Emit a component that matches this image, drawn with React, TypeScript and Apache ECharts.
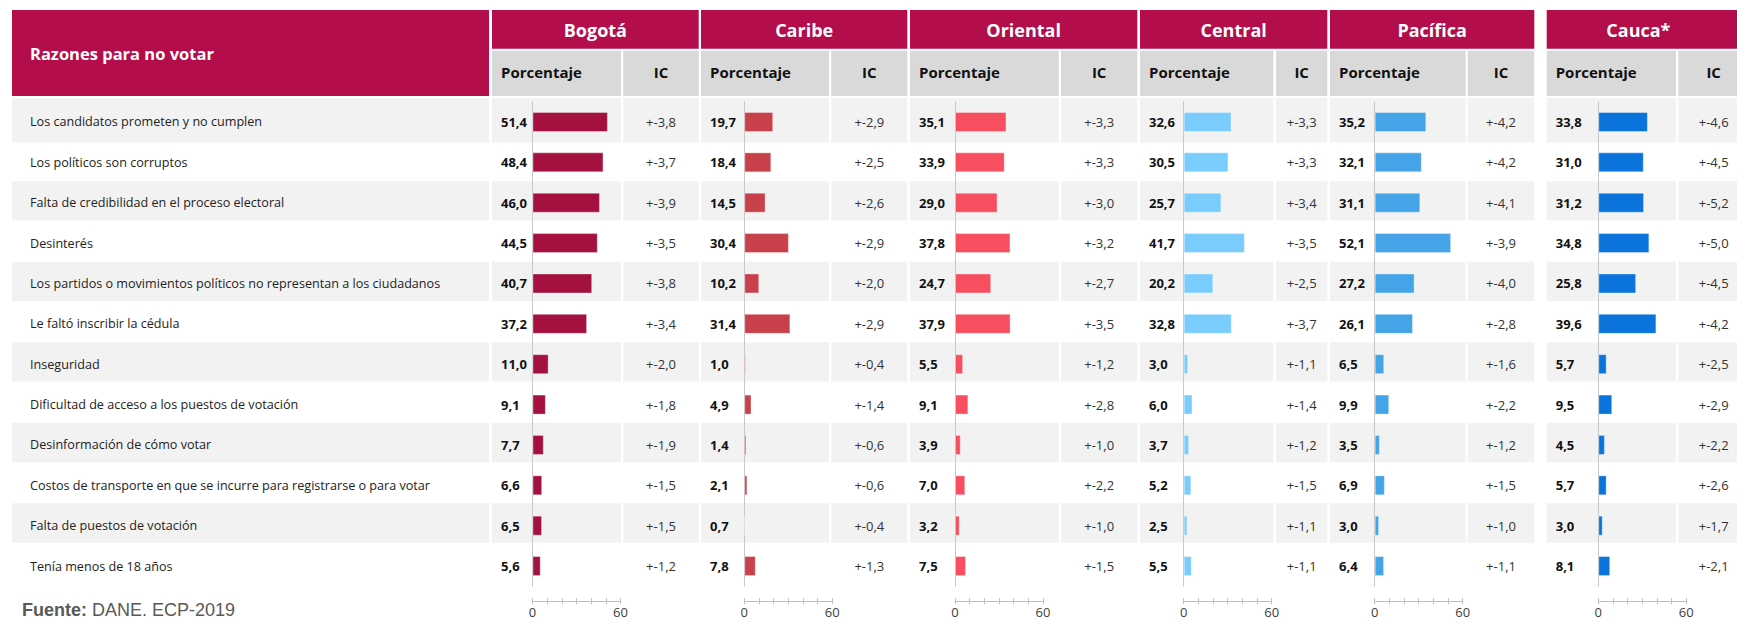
import React, { useEffect, useRef } from 'react';
import * as echarts from 'echarts';

// ---------- DATA ----------
const reasons = [
  'Los candidatos prometen y no cumplen',
  'Los políticos son corruptos',
  'Falta de credibilidad en el proceso electoral',
  'Desinterés',
  'Los partidos o movimientos políticos no representan a los ciudadanos',
  'Le faltó inscribir la cédula',
  'Inseguridad',
  'Dificultad de acceso a los puestos de votación',
  'Desinformación de cómo votar',
  'Costos de transporte en que se incurre para registrarse o para votar',
  'Falta de puestos de votación',
  'Tenía menos de 18 años',
];

const regions = ['Bogotá', 'Caribe', 'Oriental', 'Central', 'Pacífica', 'Cauca*'];

const bogotaPct = [51.4, 48.4, 46.0, 44.5, 40.7, 37.2, 11.0, 9.1, 7.7, 6.6, 6.5, 5.6];
const bogotaIC = [3.8, 3.7, 3.9, 3.5, 3.8, 3.4, 2.0, 1.8, 1.9, 1.5, 1.5, 1.2];
const caribePct = [19.7, 18.4, 14.5, 30.4, 10.2, 31.4, 1.0, 4.9, 1.4, 2.1, 0.7, 7.8];
const caribeIC = [2.9, 2.5, 2.6, 2.9, 2.0, 2.9, 0.4, 1.4, 0.6, 0.6, 0.4, 1.3];
const orientalPct = [35.1, 33.9, 29.0, 37.8, 24.7, 37.9, 5.5, 9.1, 3.9, 7.0, 3.2, 7.5];
const orientalIC = [3.3, 3.3, 3.0, 3.2, 2.7, 3.5, 1.2, 2.8, 1.0, 2.2, 1.0, 1.5];
const centralPct = [32.6, 30.5, 25.7, 41.7, 20.2, 32.8, 3.0, 6.0, 3.7, 5.2, 2.5, 5.5];
const centralIC = [3.3, 3.3, 3.4, 3.5, 2.5, 3.7, 1.1, 1.4, 1.2, 1.5, 1.1, 1.1];
const pacificaPct = [35.2, 32.1, 31.1, 52.1, 27.2, 26.1, 6.5, 9.9, 3.5, 6.9, 3.0, 6.4];
const pacificaIC = [4.2, 4.2, 4.1, 3.9, 4.0, 2.8, 1.6, 2.2, 1.2, 1.5, 1.0, 1.1];
const caucaPct = [33.8, 31.0, 31.2, 34.8, 25.8, 39.6, 5.7, 9.5, 4.5, 5.7, 3.0, 8.1];
const caucaIC = [4.6, 4.5, 5.2, 5.0, 4.5, 4.2, 2.5, 2.9, 2.2, 2.6, 1.7, 2.1];

const pctByRegion = [bogotaPct, caribePct, orientalPct, centralPct, pacificaPct, caucaPct];
const icByRegion = [bogotaIC, caribeIC, orientalIC, centralIC, pacificaIC, caucaIC];

const barColors = ['#a5113f', '#c8404a', '#f74f60', '#7accfd', '#45a4e8', '#0a74dc'];

const AXIS_MIN = 0;
const AXIS_MAX = 60;
const AXIS_STEP = 10;

const headerTitle = 'Razones para no votar';
const subPct = 'Porcentaje';
const subIC = 'IC';
const sourceBold = 'Fuente:';
const sourceText = ' DANE. ECP-2019';

// ---------- LAYOUT ----------
const W = 1737;
const H = 622;
const CRIMSON = '#b30d4b';
const SUB_GRAY = '#d9d9d9';
const ROW_GRAY = '#f2f2f2';
const FONT = "'Open Sans', 'Noto Sans', sans-serif";

// [left, pctRight, icLeft, right]
const colBounds = [
  [492, 621, 623.3, 698.7],
  [701, 829, 831.3, 907.3],
  [910, 1058.7, 1061, 1137.3],
  [1140, 1273.3, 1276, 1327.3],
  [1330, 1465.7, 1467.7, 1534.3],
  [1546.7, 1676, 1678.3, 1749],
];
const zeroX = [532.5, 744.3, 955, 1183.7, 1374.7, 1598.3];
const AXIS_W = 88;
const GRID_TOP = 101.8;
const ROW_H = 40.37;
const LABEL_LEFT = 12;
const LABEL_RIGHT = 489;

const fmt = (v: number) => v.toFixed(1).replace('.', ',');
const fmtIC = (v: number) => '+-' + v.toFixed(1).replace('.', ',');

function buildOption() {
  const n = reasons.length;
  const grids: any[] = [];
  const xAxes: any[] = [];
  const yAxes: any[] = [];
  const series: any[] = [];
  const graphics: any[] = [];

  // header backgrounds
  graphics.push({ type: 'rect', z: -10, shape: { x: LABEL_LEFT, y: 10, width: LABEL_RIGHT - LABEL_LEFT, height: 86 }, style: { fill: CRIMSON } });
  graphics.push({ type: 'text', z: 10, x: 30, y: 53.5, style: { text: headerTitle, fill: '#fff', font: `bold 16.5px ${FONT}`, verticalAlign: 'middle', align: 'left' } });

  regions.forEach((name, r) => {
    const [l, pr, il, rr] = colBounds[r];
    graphics.push({ type: 'rect', z: -10, shape: { x: l, y: 10, width: rr - l, height: 38.7 }, style: { fill: CRIMSON } });
    graphics.push({ type: 'rect', z: -10, shape: { x: l, y: 50.7, width: pr - l, height: 45.3 }, style: { fill: SUB_GRAY } });
    graphics.push({ type: 'rect', z: -10, shape: { x: il, y: 50.7, width: rr - il, height: 45.3 }, style: { fill: SUB_GRAY } });
    const titleRight = r === regions.length - 1 ? W - 7 : rr;
    graphics.push({ type: 'text', z: 10, x: (l + titleRight) / 2, y: 30, style: { text: name, fill: '#fff', font: `bold 18px ${FONT}`, align: 'center', verticalAlign: 'middle' } });
    graphics.push({ type: 'text', z: 10, x: l + 9, y: 72, style: { text: subPct, fill: '#111', font: `bold 15px ${FONT}`, align: 'left', verticalAlign: 'middle' } });
    graphics.push({ type: 'text', z: 10, x: (il + (r === regions.length - 1 ? 1749 : rr)) / 2, y: 72, style: { text: subIC, fill: '#111', font: `bold 15px ${FONT}`, align: 'center', verticalAlign: 'middle' } });
  });

  // row stripes
  for (let i = 0; i < n; i += 2) {
    const c = 120.3 + i * 40.27;
    const top = i === 0 ? 98 : c - 19.7;
    const bottom = i === 0 ? 142.5 : c + 19.7;
    const h = bottom - top;
    graphics.push({ type: 'rect', z: -10, shape: { x: LABEL_LEFT, y: top, width: LABEL_RIGHT - LABEL_LEFT, height: h }, style: { fill: ROW_GRAY } });
    colBounds.forEach(([l, pr, il, rr]) => {
      graphics.push({ type: 'rect', z: -10, shape: { x: l, y: top, width: pr - l, height: h }, style: { fill: ROW_GRAY } });
      graphics.push({ type: 'rect', z: -10, shape: { x: il, y: top, width: rr - il, height: h }, style: { fill: ROW_GRAY } });
    });
  }

  // source
  graphics.push({
    type: 'text', z: 10, x: 22, y: 610,
    style: {
      text: `{b|${sourceBold}}{n|${sourceText}}`,
      verticalAlign: 'middle',
      rich: {
        b: { font: "bold 18px 'Liberation Sans', Arial, sans-serif", fill: '#595959' },
        n: { font: "18px 'Liberation Sans', Arial, sans-serif", fill: '#595959' },
      },
    },
  });

  regions.forEach((name, r) => {
    const [l, pr, il, rr] = colBounds[r];
    const z0 = zeroX[r];
    grids.push({ left: z0, top: GRID_TOP, width: AXIS_W, height: ROW_H * n, containLabel: false });

    const xMain = xAxes.length;
    xAxes.push({
      gridIndex: r, type: 'value', min: AXIS_MIN, max: AXIS_MAX, interval: AXIS_STEP,
      position: 'bottom', offset: 15,
      axisLine: { show: true, lineStyle: { color: '#bfbfbf', width: 1 } },
      axisTick: { show: true, length: 3, lineStyle: { color: '#bfbfbf' } },
      splitLine: { show: false },
      axisLabel: {
        show: true, margin: 4, fontSize: 13, fontFamily: FONT, color: '#404040',
        formatter: (v: number) => (v === AXIS_MIN || v === AXIS_MAX ? String(v) : ''),
      },
    });
    xAxes.push({
      gridIndex: r, type: 'value', min: AXIS_MIN, max: AXIS_MAX, interval: AXIS_STEP,
      position: 'bottom', offset: 15,
      axisLine: { show: false },
      axisTick: { show: true, inside: true, length: 3, lineStyle: { color: '#bfbfbf' } },
      splitLine: { show: false },
      axisLabel: { show: false },
    });

    const yMain = yAxes.length;
    yAxes.push({
      gridIndex: r, type: 'category', inverse: true, data: reasons, position: 'left',
      axisLine: { show: true, lineStyle: { color: '#c8c8c8', width: 1 } },
      axisTick: { show: false },
      splitLine: { show: false },
      axisLabel: {
        interval: 0, hideOverlap: false, align: 'left', margin: z0 - (l + 9),
        fontSize: 13, fontWeight: 'bold', fontFamily: FONT, color: '#111',
        formatter: (_v: string, i: number) => fmt(pctByRegion[r][i]),
      },
    });
    const icCenter = (il + rr) / 2;
    yAxes.push({
      gridIndex: r, type: 'category', inverse: true, data: reasons, position: 'right',
      axisLine: { show: false }, axisTick: { show: false }, splitLine: { show: false },
      axisLabel: {
        interval: 0, hideOverlap: false, align: 'center', margin: icCenter - (z0 + AXIS_W),
        fontSize: 13, fontFamily: FONT, color: '#333',
        formatter: (_v: string, i: number) => fmtIC(icByRegion[r][i]),
      },
    });
    if (r === 0) {
      yAxes.push({
        gridIndex: r, type: 'category', inverse: true, data: reasons, position: 'left',
        axisLine: { show: false }, axisTick: { show: false }, splitLine: { show: false },
        axisLabel: {
          interval: 0, hideOverlap: false, align: 'left', margin: z0 - 30,
          fontSize: 12.6, fontFamily: FONT, color: '#222',
        },
      });
    }

    series.push({
      type: 'bar', name, xAxisIndex: xMain, yAxisIndex: yMain,
      data: pctByRegion[r], barWidth: 20, silent: true,
      itemStyle: { color: barColors[r], borderColor: 'rgba(255,255,255,0.35)', borderWidth: 1 },
    });
  });

  return {
    animation: false,
    backgroundColor: '#ffffff',
    grid: grids,
    xAxis: xAxes,
    yAxis: yAxes,
    series,
    graphic: { elements: graphics },
  };
}

export default function App() {
  const ref = useRef<HTMLDivElement>(null);
  useEffect(() => {
    document.body.style.margin = '0';
    if (!ref.current) return;
    const chart = echarts.init(ref.current, undefined, { renderer: 'svg', width: W, height: H });
    chart.setOption(buildOption() as any);
    return () => chart.dispose();
  }, []);
  return <div ref={ref} style={{ width: W, height: H, position: 'absolute', left: 0, top: 0 }} />;
}
